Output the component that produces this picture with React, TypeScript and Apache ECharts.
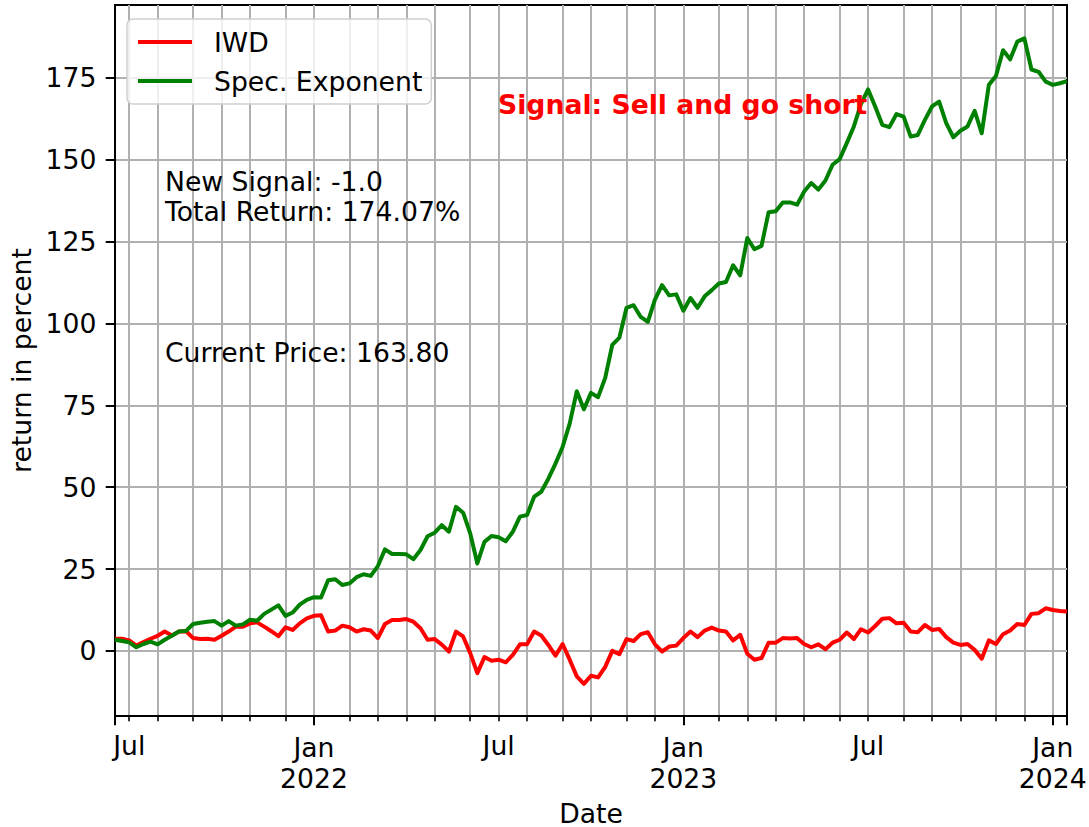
import React, { useEffect, useRef } from "react";
import * as echarts from "echarts";

// weekly periods (Monday of each week), 135 weeks
const startDate = "2021-06-21";
const weekCount = 135;

const iwd = [
  3.7, 3.7, 3.2, 1.6, 2.7, 3.7, 4.6, 5.9, 4.7, 5.9,
  6.0, 3.9, 3.6, 3.7, 3.4, 4.6, 5.9, 7.4, 7.4, 8.4,
  8.7, 7.4, 6.0, 4.5, 7.2, 6.4, 8.4, 9.9, 10.7, 10.9,
  5.9, 6.2, 7.7, 7.2, 5.9, 6.6, 6.2, 3.9, 8.2, 9.4,
  9.4, 9.7, 8.9, 6.9, 3.4, 3.6, 1.9, -0.2, 5.9, 4.4,
  -0.7, -6.8, -1.9, -3.0, -2.7, -3.5, -1.2, 2.0, 2.0, 5.9,
  4.7, 1.8, -1.5, 2.1, -2.7, -7.8, -10.1, -7.6, -8.1, -4.9,
  0.0, -1.0, 3.6, 3.0, 5.1, 5.7, 2.0, -0.2, 1.3, 1.6,
  3.9, 5.9, 4.2, 6.2, 7.1, 6.2, 5.9, 3.2, 4.9, -0.9,
  -2.7, -2.2, 2.5, 2.5, 3.9, 3.8, 3.9, 2.1, 1.1, 2.0,
  0.5, 2.5, 3.4, 5.6, 3.6, 6.6, 5.6, 7.6, 9.8, 10.0,
  8.4, 8.6, 5.9, 5.7, 7.9, 6.4, 6.7, 4.2, 2.5, 1.8,
  2.1, 0.3, -2.4, 3.2, 2.1, 5.1, 6.2, 8.2, 7.9, 11.3,
  11.5, 13.0, 12.5, 12.2, 12.0,
];

const specExponent = [
  3.4, 3.0, 2.6, 1.1, 2.1, 2.8, 2.0, 3.4, 4.6, 5.9,
  6.1, 8.2, 8.6, 8.9, 9.1, 7.7, 9.1, 7.7, 8.1, 9.5,
  9.2, 11.3, 12.6, 13.9, 10.7, 11.7, 14.1, 15.6, 16.4, 16.3,
  21.6, 21.9, 20.1, 20.6, 22.5, 23.4, 22.9, 25.9, 31.0, 29.6,
  29.6, 29.5, 28.0, 30.8, 35.0, 36.1, 38.4, 36.4, 44.0, 42.2,
  35.9, 26.7, 33.3, 35.1, 34.7, 33.5, 36.4, 41.0, 41.5, 47.1,
  48.6, 52.6, 57.2, 62.3, 69.4, 79.3, 73.8, 78.8, 77.5, 83.4,
  93.5, 95.7, 104.8, 105.6, 102.0, 100.5, 107.3, 111.7, 108.6, 108.9,
  103.9, 107.8, 104.8, 108.3, 110.2, 112.2, 112.7, 117.8, 114.7, 126.1,
  122.7, 123.7, 134.0, 134.3, 137.0, 137.0, 136.3, 140.3, 142.9, 140.9,
  143.7, 148.5, 150.2, 155.1, 160.2, 167.0, 171.5, 166.3, 160.7, 160.0,
  164.0, 163.2, 157.1, 157.6, 162.2, 166.3, 167.8, 161.2, 156.9, 158.9,
  160.2, 165.0, 158.1, 172.9, 175.6, 183.5, 180.7, 186.1, 187.1, 177.6,
  176.9, 173.9, 172.9, 173.4, 174.07,
];

const yTicks = [0, 25, 50, 75, 100, 125, 150, 175];
const yMin = -19.9;
const yMax = 197.3;
const monthNames = ["Jan", "Feb", "Mar", "Apr", "May", "Jun", "Jul", "Aug", "Sep", "Oct", "Nov", "Dec"];

const FONT = "DejaVu Sans";
const FS = 26.67;

function buildDates(): Date[] {
  const [y, m, d] = startDate.split("-").map(Number);
  const out: Date[] = [];
  for (let i = 0; i < weekCount; i++) out.push(new Date(Date.UTC(y, m - 1, d + 7 * i)));
  return out;
}

export default function App() {
  const ref = useRef<HTMLDivElement>(null);

  useEffect(() => {
    if (!ref.current) return;
    const dates = buildDates();
    const cats = dates.map((dt) => dt.toISOString().slice(0, 10));
    const monthStart = new Set<number>();
    const julIdx = new Set<number>();
    const janIdx = new Set<number>();
    for (let i = 1; i < dates.length; i++) {
      if (dates[i].getUTCMonth() !== dates[i - 1].getUTCMonth()) {
        monthStart.add(i);
        if (dates[i].getUTCMonth() === 6) julIdx.add(i);
        if (dates[i].getUTCMonth() === 0) janIdx.add(i);
      }
    }
    const majorIdx = new Set<number>([0, dates.length - 1, ...Array.from(janIdx)]);

    const chart = echarts.init(ref.current, undefined, { renderer: "svg" });
    const option: any = {
      animation: false,
      backgroundColor: "#ffffff",
      textStyle: { fontFamily: FONT },
      grid: {
        left: 115,
        right: 22,
        top: 5,
        bottom: 111,
        containLabel: false,
        outerBoundsMode: "none",
        show: true,
        borderColor: "#000000",
        borderWidth: 2,
        backgroundColor: "transparent",
      },
      legend: {
        orient: "vertical",
        left: 127,
        top: 19,
        data: ["IWD", "Spec. Exponent"],
        icon: "rect",
        itemWidth: 54,
        itemHeight: 4,
        itemGap: 9,
        padding: [8, 9, 8, 11],
        backgroundColor: "rgba(255,255,255,0.8)",
        borderColor: "#d0d0d0",
        borderWidth: 1.5,
        borderRadius: 6,
        textStyle: {
          fontSize: FS,
          fontFamily: FONT,
          color: "#000000",
          lineHeight: 30,
          padding: [0, 0, 0, 17],
        },
      },
      xAxis: [
        {
          type: "category",
          data: cats,
          boundaryGap: false,
          position: "bottom",
          axisLine: { show: true, onZero: false, lineStyle: { color: "#000000", width: 2 } },
          axisTick: {
            show: true,
            interval: (i: number) => monthStart.has(i),
            length: 5.3,
            lineStyle: { color: "#000000", width: 1.6 },
          },
          splitLine: {
            show: true,
            interval: (i: number) => monthStart.has(i),
            lineStyle: { color: "#b0b0b0", width: 2 },
          },
          axisLabel: {
            show: true,
            interval: (i: number) => julIdx.has(i),
            formatter: (v: string) => monthNames[Number(v.slice(5, 7)) - 1],
            margin: 14,
            fontSize: FS,
            fontFamily: FONT,
            color: "#000000",
            lineHeight: 31,
          },
        },
        {
          type: "category",
          data: cats,
          boundaryGap: false,
          position: "bottom",
          axisLine: { show: false, onZero: false },
          axisTick: {
            show: true,
            interval: (i: number) => majorIdx.has(i),
            length: 9.3,
            lineStyle: { color: "#000000", width: 2 },
          },
          splitLine: { show: false },
          axisLabel: {
            show: true,
            interval: (i: number) => janIdx.has(i),
            formatter: (v: string) => monthNames[Number(v.slice(5, 7)) - 1] + "\n" + v.slice(0, 4),
            margin: 16,
            fontSize: FS,
            fontFamily: FONT,
            color: "#000000",
            lineHeight: 31,
          },
          name: "Date",
          nameLocation: "middle",
          nameGap: 85,
          nameTextStyle: { fontSize: FS, fontFamily: FONT, color: "#000000", lineHeight: 24 },
        },
      ],
      yAxis: {
        type: "value",
        min: yMin,
        max: yMax,
        axisLine: { show: true, onZero: false, lineStyle: { color: "#000000", width: 2 } },
        axisTick: {
          show: true,
          customValues: yTicks,
          length: 9.3,
          lineStyle: { color: "#000000", width: 2 },
        },
        axisLabel: {
          show: true,
          customValues: yTicks,
          margin: 18.6,
          fontSize: FS,
          fontFamily: FONT,
          color: "#000000",
        },
        splitLine: { show: true, lineStyle: { color: "#b0b0b0", width: 2 } },
        name: "return in percent",
        nameLocation: "middle",
        nameRotate: 90,
        nameGap: 80,
        nameTextStyle: { fontSize: FS, fontFamily: FONT, color: "#000000" },
      },
      series: [
        {
          name: "IWD",
          type: "line",
          data: iwd,
          symbol: "none",
          color: "#ff0000",
          lineStyle: { color: "#ff0000", width: 4, join: "round" },
          xAxisIndex: 0,
          yAxisIndex: 0,
          z: 2,
        },
        {
          name: "Spec. Exponent",
          type: "line",
          data: specExponent,
          symbol: "none",
          color: "#008000",
          lineStyle: { color: "#008000", width: 4, join: "round" },
          xAxisIndex: 0,
          yAxisIndex: 0,
          z: 3,
        },
      ],
      graphic: [
        {
          type: "text",
          x: 498,
          y: 104,
          z: 100,
          style: {
            text: "Signal: Sell and go short",
            fill: "#ff0000",
            fontSize: FS,
            fontFamily: FONT,
            fontWeight: "bold",
            align: "left",
            verticalAlign: "middle",
          },
        },
        {
          type: "text",
          x: 165,
          y: 166,
          z: 100,
          style: {
            text: "New Signal: -1.0\nTotal Return: 174.07%",
            fill: "#000000",
            fontSize: FS,
            fontFamily: FONT,
            lineHeight: 30,
            align: "left",
            verticalAlign: "top",
          },
        },
        {
          type: "text",
          x: 165,
          y: 352,
          z: 100,
          style: {
            text: "Current Price: 163.80",
            fill: "#000000",
            fontSize: FS,
            fontFamily: FONT,
            align: "left",
            verticalAlign: "middle",
          },
        },
      ],
    };
    chart.setOption(option);
    return () => chart.dispose();
  }, []);

  return (
    <div
      ref={ref}
      style={{ position: "fixed", left: 0, top: 0, width: 1089, height: 827, background: "#fff" }}
    />
  );
}
